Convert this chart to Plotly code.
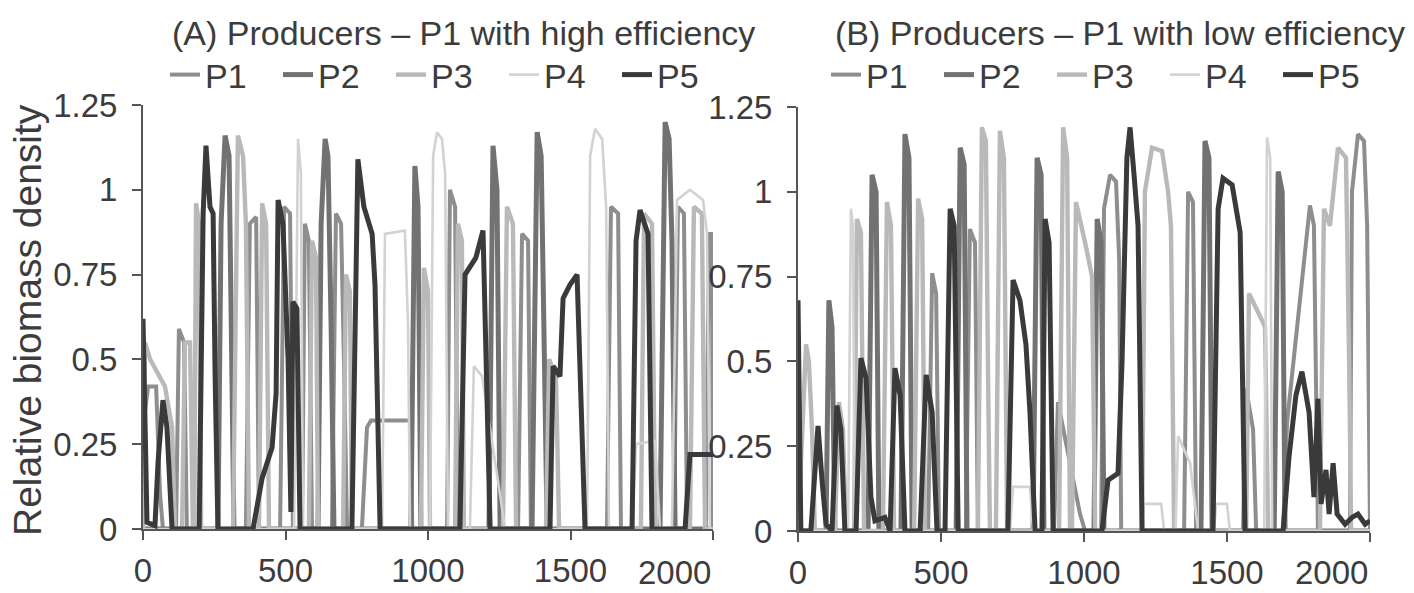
import plotly.graph_objects as go

# ---------------- DATA (time, relative biomass density) ----------------
# Panel A: P1 with high efficiency
P1_A = [(0,0.3),(18,0.42),(46,0.42),(60,0.1),(70,0.0),(116,0.0),(126,0.59),(144,0.55),(154,0.0),
        (361,0.0),(375,0.9),(397,0.92),(407,0.0),(481,0.0),(495,0.95),(516,0.93),(526,0.0),
        (558,0.0),(568,0.9),(582,0.85),(593,0.0),(663,0.0),(677,0.93),(695,0.9),(705,0.5),(716,0.0),
        (768,0.0),(786,0.3),(800,0.32),(937,0.32),(945,0.0),(1067,0.0),(1077,1.0),(1095,0.95),(1105,0.0),
        (1316,0.0),(1330,0.87),(1351,0.85),(1361,0.0),(1628,0.0),(1642,0.95),(1667,0.93),(1677,0.0),
        (1863,0.0),(1877,0.95),(1898,0.93),(1909,0.0),(1975,0.0),(1986,0.87),(1996,0.87),(2000,0.0)]
P2_A = [(0,0.0),(263,0.0),(274,0.9),(288,1.16),(302,1.1),(312,0.5),(319,0.0),(614,0.0),(625,0.9),
        (639,1.15),(649,1.1),(660,0.6),(670,0.0),(940,0.0),(954,1.07),(965,0.95),(975,0.0),(1214,0.0),
        (1228,1.13),(1242,1.0),(1253,0.0),(1365,0.0),(1383,1.17),(1397,1.1),(1407,0.5),(1418,0.0),
        (1814,0.0),(1832,1.2),(1846,1.15),(1856,0.85),(1867,0.0),(2000,0.0)]
P3_A = [(0,0.0),(7,0.55),(25,0.5),(77,0.42),(102,0.3),(112,0.0),(137,0.0),(147,0.55),(165,0.55),
        (175,0.0),(180,0.0),(186,0.96),(197,0.9),(204,0.0),(316,0.0),(333,1.16),(351,1.1),(361,0.9),
        (372,0.0),(407,0.0),(418,0.96),(432,0.9),(442,0.0),(582,0.0),(593,0.85),(607,0.8),(614,0.0),
        (702,0.0),(712,0.75),(726,0.7),(733,0.0),(975,0.0),(986,0.77),(1000,0.7),(1007,0.0),(1095,0.0),
        (1105,0.9),(1119,0.85),(1126,0.0),(1263,0.0),(1277,0.95),(1298,0.9),(1309,0.0),(1414,0.0),
        (1425,0.5),(1449,0.45),(1460,0.0),(1747,0.0),(1758,0.93),(1786,0.9),(1797,0.0),(1919,0.0),
        (1933,0.95),(1961,0.93),(1972,0.0),(2000,0.0)]
P4_A = [(0,0.0),(530,0.0),(544,1.15),(554,1.05),(561,0.0),(839,0.0),(849,0.87),(919,0.88),(930,0.6),
        (937,0.0),(1007,0.0),(1018,1.1),(1032,1.17),(1049,1.15),(1060,1.05),(1070,0.0),(1147,0.0),
        (1161,0.48),(1190,0.45),(1218,0.3),(1253,0.1),(1270,0.0),(1558,0.0),(1569,1.1),(1586,1.18),
        (1611,1.15),(1625,0.95),(1635,0.0),(1716,0.0),(1730,0.25),(1797,0.26),(1814,0.0),(1856,0.0),
        (1874,0.97),(1919,1.0),(1965,0.97),(1979,0.87),(1989,0.0),(2000,0.0)]
P5_A = [(0,0.62),(14,0.02),(42,0.01),(53,0.2),(70,0.38),(84,0.3),(102,0.0),(197,0.0),(211,0.93),
        (221,1.13),(235,0.95),(246,0.93),(253,0.45),(263,0.0),(386,0.0),(418,0.15),(453,0.24),(467,0.4),
        (474,0.97),(491,0.9),(509,0.5),(519,0.05),(526,0.67),(540,0.65),(551,0.0),(733,0.0),(754,1.09),
        (775,0.95),(804,0.87),(814,0.72),(832,0.0),(1112,0.0),(1130,0.75),(1168,0.8),(1193,0.88),
        (1218,0.0),(1428,0.0),(1439,0.48),(1463,0.45),(1474,0.68),(1498,0.72),(1523,0.75),(1551,0.0),
        (1716,0.0),(1730,0.85),(1744,0.94),(1772,0.87),(1786,0.0),(1902,0.0),(1919,0.22),(2000,0.22)]

# Panel B: P1 with low efficiency
P1_B = [(0,0.05),(10,0.0),(455,0.0),(469,0.76),(483,0.7),(493,0.0),(587,0.0),(601,0.89),(619,0.85),
        (629,0.0),(895,0.0),(909,0.38),(951,0.2),(986,0.05),(1004,0.0),(1060,0.0),(1070,0.95),(1091,1.05),
        (1112,1.03),(1123,0.8),(1130,0.0),(1350,0.0),(1364,1.0),(1381,0.97),(1392,0.0),(1556,0.0),
        (1567,0.42),(1591,0.3),(1602,0.0),(1696,0.0),(1710,0.32),(1745,0.6),(1790,0.96),(1804,0.9),
        (1818,0.0),(1930,0.0),(1937,1.0),(1958,1.17),(1979,1.15),(1990,0.9),(1997,0.0),(2000,0.0)]
P2_B = [(0,0.0),(98,0.0),(108,0.68),(119,0.6),(129,0.0),(245,0.0),(259,1.05),(273,1.0),(283,0.0),
        (360,0.0),(374,1.17),(388,1.1),(399,0.0),(553,0.0),(567,1.13),(581,1.08),(591,0.0),(822,0.0),
        (836,1.1),(850,1.05),(860,0.0),(1035,0.0),(1046,0.92),(1060,0.85),(1070,0.0),(1409,0.0),
        (1423,1.15),(1437,1.1),(1448,0.0),(1665,0.0),(1679,1.06),(1693,1.0),(1703,0.0),(2000,0.0)]
P3_B = [(0,0.0),(28,0.55),(38,0.5),(49,0.3),(59,0.0),(129,0.0),(143,0.38),(157,0.3),(168,0.0),
        (196,0.0),(206,0.92),(220,0.88),(231,0.0),(297,0.0),(311,0.97),(325,0.9),(336,0.0),(406,0.0),
        (420,0.98),(434,0.92),(444,0.0),(629,0.0),(643,1.19),(657,1.15),(664,0.5),(671,0.0),(692,0.0),
        (706,1.18),(720,1.1),(731,0.0),(913,0.0),(927,1.19),(941,1.1),(951,0.0),(958,0.0),(972,0.97),
        (1004,0.85),(1028,0.75),(1039,0.0),(1203,0.0),(1213,1.0),(1238,1.13),(1273,1.12),(1294,1.0),
        (1304,0.9),(1315,0.0),(1567,0.0),(1577,0.7),(1623,0.62),(1633,0.6),(1644,0.0),(1825,0.0),
        (1839,0.95),(1860,0.9),(1888,1.13),(1916,1.1),(1927,0.5),(1934,0.0),(2000,0.0)]
P4_B = [(0,0.0),(175,0.0),(185,0.95),(192,0.9),(199,0.0),(741,0.0),(752,0.13),(811,0.13),(822,0.0),
        (1203,0.0),(1210,0.08),(1270,0.08),(1280,0.0),(1320,0.0),(1329,0.28),(1371,0.2),(1399,0.0),
        (1455,0.0),(1462,0.08),(1500,0.08),(1510,0.0),(1630,0.0),(1640,1.16),(1651,1.1),(1658,0.0),
        (2000,0.0)]
P5_B = [(0,0.68),(10,0.0),(45,0.0),(70,0.31),(84,0.15),(98,0.02),(119,0.0),(136,0.37),(150,0.3),
        (164,0.0),(203,0.0),(220,0.51),(238,0.45),(255,0.1),(269,0.03),(304,0.04),(322,0.0),(339,0.48),
        (357,0.4),(374,0.0),(427,0.0),(448,0.46),(469,0.35),(486,0.0),(514,0.0),(532,0.95),(546,0.9),
        (560,0.0),(734,0.0),(752,0.74),(776,0.68),(797,0.55),(811,0.35),(829,0.0),(853,0.0),(864,0.92),
        (878,0.85),(892,0.0),(1063,0.0),(1084,0.15),(1119,0.17),(1133,0.5),(1150,1.1),(1161,1.19),
        (1175,1.05),(1189,0.9),(1203,0.0),(1451,0.0),(1469,0.95),(1486,1.04),(1518,1.02),(1546,0.88),
        (1563,0.0),(1696,0.0),(1717,0.22),(1741,0.4),(1762,0.47),(1787,0.35),(1804,0.1),(1818,0.39),
        (1829,0.08),(1846,0.18),(1857,0.05),(1871,0.2),(1885,0.05),(1913,0.02),(1937,0.04),(1958,0.05),
        (1983,0.02),(2000,0.03)]

SERIES_NAMES = ["P1", "P2", "P3", "P4", "P5"]
PANEL_A = [P1_A, P2_A, P3_A, P4_A, P5_A]
PANEL_B = [P1_B, P2_B, P3_B, P4_B, P5_B]
Y_TICKS = [0, 0.25, 0.5, 0.75, 1, 1.25]
Y_TICK_LABELS = ["0", "0.25", "0.5", "0.75", "1", "1.25"]
X_TICKS = [0, 500, 1000, 1500, 2000]
X_TICK_LABELS = ["0", "500", "1000", "1500", ""]
TITLE_A = "(A) Producers \u2013 P1 with high efficiency"
TITLE_B = "(B) Producers \u2013 P1 with low efficiency"
Y_TITLE = "Relative biomass density"

# ---------------- STYLE ----------------
COLORS = ["#8e8e8e", "#727272", "#b9b9b9", "#d2d2d2", "#3a3a3a"]
WIDTHS = [4.0, 5.0, 4.4, 2.6, 5.0]
FONT = "Liberation Sans, Arial, Helvetica, sans-serif"
TXT = "#3c3c3c"
AX = "#555555"
W, H = 1414, 593

fig = go.Figure()
for i, name in enumerate(SERIES_NAMES):
    ta, ya = zip(*PANEL_A[i])
    fig.add_trace(go.Scatter(x=list(ta), y=list(ya), mode="lines", name=name,
                             line=dict(color=COLORS[i], width=WIDTHS[i]),
                             xaxis="x", yaxis="y", legend="legend"))
for i, name in enumerate(SERIES_NAMES):
    tb, yb = zip(*PANEL_B[i])
    fig.add_trace(go.Scatter(x=list(tb), y=list(yb), mode="lines", name=name,
                             line=dict(color=COLORS[i], width=WIDTHS[i]),
                             xaxis="x2", yaxis="y2", legend="legend2"))

def px_x(p):
    return p / W

def px_y(p):
    return 1 - p / H

xcommon = dict(range=[0, 2000], tickvals=X_TICKS, ticktext=X_TICK_LABELS, automargin=False,
               showgrid=False, zeroline=False, showline=True, linecolor=AX, linewidth=2,
               ticks="outside", ticklen=9, tickwidth=2, tickcolor=AX,
               tickfont=dict(family=FONT, size=33, color=TXT), ticklabelstandoff=2)
ycommon = dict(range=[0, 1.25], tickvals=Y_TICKS, ticktext=Y_TICK_LABELS, automargin=False,
               showgrid=False, zeroline=False, showline=True, linecolor=AX, linewidth=2,
               ticks="outside", ticklen=9, tickwidth=2, tickcolor=AX,
               tickfont=dict(family=FONT, size=33, color=TXT), ticklabelstandoff=8)

legend_common = dict(orientation="h", yanchor="middle", xanchor="left",
                     font=dict(family=FONT, size=34, color=TXT),
                     bgcolor="rgba(0,0,0,0)", itemwidth=30, entrywidth=68, traceorder="normal")

fig.update_layout(
    template="none",
    width=W, height=H, autosize=False,
    margin=dict(l=0, r=0, t=0, b=0, pad=0, autoexpand=False),
    paper_bgcolor="white", plot_bgcolor="white",
    showlegend=True,
    xaxis=dict(domain=[px_x(143), px_x(713)], anchor="y", **xcommon),
    yaxis=dict(domain=[px_y(529), px_y(105)], anchor="x", **ycommon),
    xaxis2=dict(domain=[px_x(798), px_x(1370)], anchor="y2", **xcommon),
    yaxis2=dict(domain=[px_y(531), px_y(107)], anchor="x2", **ycommon),
    legend=dict(x=px_x(165), y=px_y(75), **legend_common),
    legend2=dict(x=px_x(826), y=px_y(75), **legend_common),
    annotations=[
        dict(text=TITLE_A, x=px_x(170), y=px_y(33), xref="paper", yref="paper",
             xanchor="left", yanchor="middle", showarrow=False,
             font=dict(family=FONT, size=34, color=TXT)),
        dict(text=TITLE_B, x=px_x(833), y=px_y(33), xref="paper", yref="paper",
             xanchor="left", yanchor="middle", showarrow=False,
             font=dict(family=FONT, size=34, color=TXT)),
        dict(text=Y_TITLE, x=px_x(27), y=px_y(320), xref="paper", yref="paper",
             xanchor="center", yanchor="middle", textangle=-90, showarrow=False,
             font=dict(family=FONT, size=39, color=TXT)),
        dict(text="2000", x=2000, y=px_y(572), xref="x", yref="paper",
             xanchor="right", yanchor="middle", showarrow=False,
             font=dict(family=FONT, size=33, color=TXT)),
        dict(text="2000", x=2000, y=px_y(572), xref="x2", yref="paper",
             xanchor="right", yanchor="middle", showarrow=False,
             font=dict(family=FONT, size=33, color=TXT)),
    ],
)

fig.write_html("out.html", config={"displayModeBar": False},
               post_script="document.body.style.margin='0px';")
